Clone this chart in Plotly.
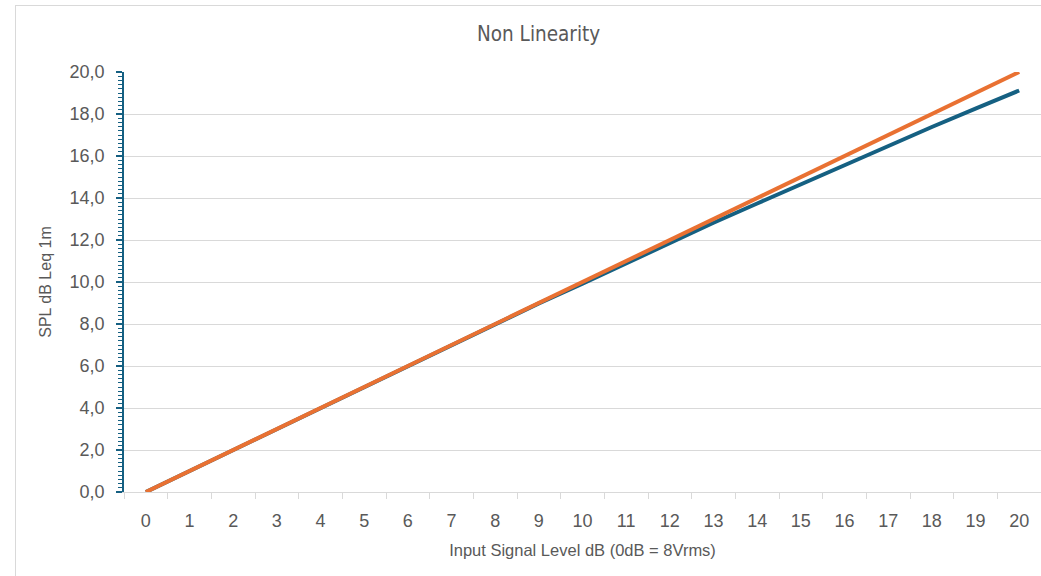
import plotly.graph_objects as go

input_level = list(range(0, 21))
measured_spl = [0, 1, 2, 3, 4, 5, 6, 7, 8, 8.98, 9.92, 10.9, 11.87, 12.82,
                13.74, 14.66, 15.58, 16.49, 17.38, 18.26, 19.12]
ideal_spl = [0, 1, 2, 3, 4, 5, 6, 7, 8, 9, 10, 11, 12, 13, 14, 15, 16, 17, 18, 19, 20]

BLUE = "#156082"
ORANGE = "#E97132"
GRID = "#d9d9d9"
TXT = "#595959"

W, H = 1041, 576
L, R, T, B = 124, 0, 72, 84
pw, ph = W - L - R, H - T - B

def px_x(p):
    return (p - L) / pw

def px_y(p):
    return (H - B - p) / ph

fig = go.Figure()
fig.add_trace(go.Scatter(x=input_level, y=measured_spl, mode="lines",
                         line=dict(color=BLUE, width=4), name="Measured"))
fig.add_trace(go.Scatter(x=input_level, y=ideal_spl, mode="lines",
                         line=dict(color=ORANGE, width=4), name="Ideal"))

fig.update_layout(
    width=W, height=H,
    margin=dict(l=L, r=R, t=T, b=B),
    plot_bgcolor="white", paper_bgcolor="white",
    showlegend=False,
    separators=", ",
    font=dict(family="Liberation Sans, Arial, sans-serif", color=TXT),
    xaxis=dict(
        type="linear", range=[-0.5, 20.5], tickmode="array",
        tickvals=input_level, ticktext=[str(v) for v in input_level],
        ticks="", showgrid=False, zeroline=False,
        showline=True, linecolor=GRID, linewidth=1,
        tickfont=dict(size=18, color=TXT),
        minor=dict(tick0=0.5, dtick=1, ticks="outside", ticklen=6,
                   tickcolor=GRID, tickwidth=1, showgrid=False),
        title=dict(text="Input Signal Level dB (0dB = 8Vrms)",
                   font=dict(size=16.5, color=TXT), standoff=14),
        ticklabelstandoff=12,
    ),
    yaxis=dict(
        range=[0, 20], dtick=2, tick0=0, tickformat=".1f",
        showgrid=True, gridcolor=GRID, gridwidth=1, zeroline=False,
        showline=True, linecolor=BLUE, linewidth=1.5,
        ticks="outside", ticklen=6, tickcolor=BLUE, tickwidth=1.5,
        minor=dict(dtick=0.2, ticks="outside", ticklen=4,
                   tickcolor=BLUE, tickwidth=1, showgrid=False),
        tickfont=dict(size=18, color=TXT),
        title=dict(text="SPL dB Leq 1m", font=dict(size=16, color=TXT), standoff=14),
        ticklabelstandoff=8,
    ),
    annotations=[dict(
        text="Non Linearity", xref="paper", yref="paper",
        x=px_x(538), y=px_y(34), xanchor="center", yanchor="middle",
        showarrow=False,
        font=dict(family="DejaVu Sans Condensed, Liberation Sans, sans-serif",
                  size=20.5, color=TXT),
    )],
    shapes=[
        dict(type="line", xref="paper", yref="paper",
             x0=px_x(15.5), x1=px_x(15.5), y0=px_y(5), y1=px_y(H + 5),
             line=dict(color=GRID, width=1)),
        dict(type="line", xref="paper", yref="paper",
             x0=px_x(15.5), x1=px_x(W + 5), y0=px_y(5.5), y1=px_y(5.5),
             line=dict(color=GRID, width=1)),
    ],
)

fig.write_html(
    "out.html",
    config={"displayModeBar": False},
    post_script="document.body.style.margin='0';document.body.style.overflow='hidden';",
)
